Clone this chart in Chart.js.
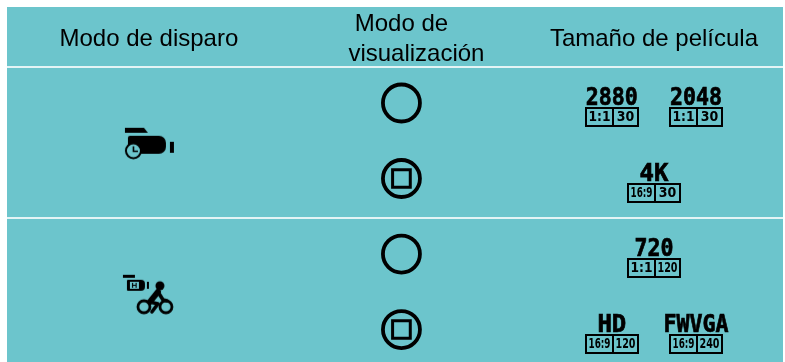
<!DOCTYPE html>
<html lang="es">
<head>
    <meta charset="UTF-8">
    <title>Modos de disparo y tamaños de película</title>
    <script src="https://cdn.jsdelivr.net/npm/chart.js"></script>
    <style>
        body { margin: 0; background: #fff; }
        canvas { display: block; }
    </style>
</head>
<body>
    <canvas id="chart" width="785" height="362"></canvas>

    <script>
        // Table contents
        const headers = [['Modo de disparo'], ['Modo de', 'visualización'], ['Tamaño de película']];
        const shootRows = [0.5, 2.5];
        const viewRows = [0, 1, 2, 3];
        const framedRows = [1, 3];
        const filmNames = ['2880', '2048', '4K', '720', 'HD', 'FWVGA'];
        const filmRatios = ['1:1', '1:1', '16:9', '1:1', '16:9', '16:9'];
        const filmRates = ['30', '30', '30', '120', '120', '240'];
        const filmRows = [0, 0, 1, 2, 3, 3];
        const filmSlots = [-1, 1, 0, 0, -1, 1];

        const PANEL = '#6cc5cc';
        const INK = '#000';

        // Camera with a clock (time-lapse)
        function timelapseIcon() {
            const c = document.createElement('canvas');
            c.width = 60; c.height = 40;
            const g = c.getContext('2d');
            g.fillStyle = INK;
            g.beginPath();
            g.moveTo(6, 7); g.lineTo(25, 7); g.lineTo(29, 12); g.lineTo(6, 12);
            g.fill();
            g.beginPath();
            g.roundRect(9, 15, 38, 18, [2, 7, 7, 2]);
            g.fill();
            g.fillRect(51, 21, 4, 11);
            g.beginPath();
            g.arc(14.5, 30, 7.5, 0, Math.PI * 2);
            g.fillStyle = PANEL;
            g.fill();
            g.lineWidth = 2;
            g.strokeStyle = INK;
            g.stroke();
            g.lineWidth = 1.6;
            g.beginPath();
            g.moveTo(14.5, 25.5); g.lineTo(14.5, 30.5); g.lineTo(19, 30.5);
            g.stroke();
            return c;
        }

        // Small H camera with a cyclist (hyper)
        function cyclingIcon() {
            const c = document.createElement('canvas');
            c.width = 60; c.height = 50;
            const g = c.getContext('2d');
            g.fillStyle = INK;
            g.strokeStyle = INK;
            g.fillRect(4, 8, 12, 3);
            g.beginPath();
            g.roundRect(8, 13, 18, 11, [1, 4, 4, 1]);
            g.fill();
            g.fillRect(28, 15, 2, 7);
            g.fillStyle = PANEL;
            g.fillRect(11, 15, 9, 7);
            g.fillStyle = INK;
            g.font = 'bold 8px "Liberation Sans"';
            g.textAlign = 'center';
            g.textBaseline = 'middle';
            g.fillText('H', 15.5, 18.8);
            g.beginPath();
            g.arc(41, 19, 4.5, 0, Math.PI * 2);
            g.fill();
            g.lineWidth = 2.8;
            g.beginPath();
            g.arc(25, 40, 6, 0, Math.PI * 2);
            g.moveTo(53, 40);
            g.arc(47, 40, 6, 0, Math.PI * 2);
            g.stroke();
            g.lineCap = 'round';
            g.lineJoin = 'round';
            g.lineWidth = 6;
            g.beginPath();
            g.moveTo(39, 25); g.lineTo(31, 35);
            g.stroke();
            g.lineWidth = 3.6;
            g.beginPath();
            g.moveTo(30, 35); g.lineTo(39, 37); g.lineTo(33, 45);
            g.moveTo(39, 25); g.lineTo(44, 33); g.lineTo(48, 34);
            g.stroke();
            return c;
        }

        // Header texts and the film size badges
        const tablePlugin = {
            id: 'table',
            beforeDraw(chart) {
                const ctx = chart.ctx;
                ctx.save();
                ctx.fillStyle = PANEL;
                ctx.fillRect(7, 7, 776, 355);
                ctx.restore();
            },
            afterDatasetsDraw(chart) {
                const ctx = chart.ctx;
                const x = chart.scales.x;
                ctx.save();
                ctx.fillStyle = INK;
                ctx.strokeStyle = INK;
                ctx.font = '24px "Liberation Sans"';
                ctx.textAlign = 'center';
                ctx.textBaseline = 'middle';
                headers.forEach((lines, col) => {
                    lines.forEach((line, i) => {
                        const y = lines.length === 1 ? 39 : 24 + i * 30;
                        const shift = line === 'visualización' ? 15 : 0;
                        ctx.fillText(line, x.getPixelForValue(col) + shift, y);
                    });
                });

                const points = chart.getDatasetMeta(3).data;
                points.forEach((pt, i) => {
                    const name = filmNames[i];
                    const w = Math.max(30, name.length * 13);
                    ctx.font = 'bold 24px "DejaVu Sans Mono"';
                    ctx.textBaseline = 'alphabetic';
                    ctx.fillStyle = INK;
                    ctx.lineWidth = 0.7;
                    ctx.fillText(name, pt.x, pt.y + 2, w);
                    ctx.strokeText(name, pt.x, pt.y + 2, w);

                    // badge: ratio | frame rate
                    const left = Math.round(pt.x - 27), top = Math.round(pt.y + 4);
                    ctx.fillRect(left, top, 54, 20);
                    ctx.fillStyle = PANEL;
                    ctx.fillRect(left + 2, top + 2, 25, 16);
                    ctx.fillRect(left + 29, top + 2, 23, 16);
                    ctx.fillStyle = INK;
                    ctx.font = 'bold 14px "DejaVu Sans Condensed"';
                    ctx.textBaseline = 'middle';
                    ctx.fillText(filmRatios[i], left + 14.5, top + 10.5, 22);
                    ctx.fillText(filmRates[i], left + 40.5, top + 10.5, 20);
                });
                ctx.restore();
            }
        };

        new Chart(document.getElementById('chart'), {
            type: 'scatter',
            data: {
                datasets: [
                    {
                        data: shootRows.map(r => ({ x: 0, y: r })),
                        pointStyle: [timelapseIcon(), cyclingIcon()],
                        pointRadius: 10
                    },
                    {
                        data: viewRows.map(r => ({ x: 1, y: r })),
                        pointStyle: 'circle',
                        pointRadius: 18.5,
                        borderWidth: 3.8,
                        borderColor: INK,
                        backgroundColor: 'transparent'
                    },
                    {
                        data: framedRows.map(r => ({ x: 1, y: r })),
                        pointStyle: 'rect',
                        pointRadius: 12.5,
                        borderWidth: 3,
                        borderColor: INK,
                        backgroundColor: 'transparent'
                    },
                    {
                        data: filmRows.map((r, i) => ({ x: 2 + filmSlots[i] / 6, y: r })),
                        pointRadius: 0
                    }
                ]
            },
            options: {
                responsive: false,
                animation: false,
                layout: { autoPadding: false, padding: { left: 7, right: 2, top: 67, bottom: 0 } },
                plugins: { legend: { display: false }, tooltip: { enabled: false } },
                scales: {
                    x: {
                        type: 'linear',
                        display: false,
                        min: -0.562,
                        max: 2.511
                    },
                    y: {
                        type: 'linear',
                        reverse: true,
                        min: -0.477,
                        max: 3.43,
                        afterBuildTicks: axis => {
                            axis.ticks = [{ value: -0.477 }, { value: 1.523 }];
                        },
                        ticks: { display: false },
                        grid: { color: '#e4f4f5', lineWidth: 2, drawTicks: false },
                        border: { display: false }
                    }
                }
            },
            plugins: [tablePlugin]
        });
    </script>
</body>
</html>
